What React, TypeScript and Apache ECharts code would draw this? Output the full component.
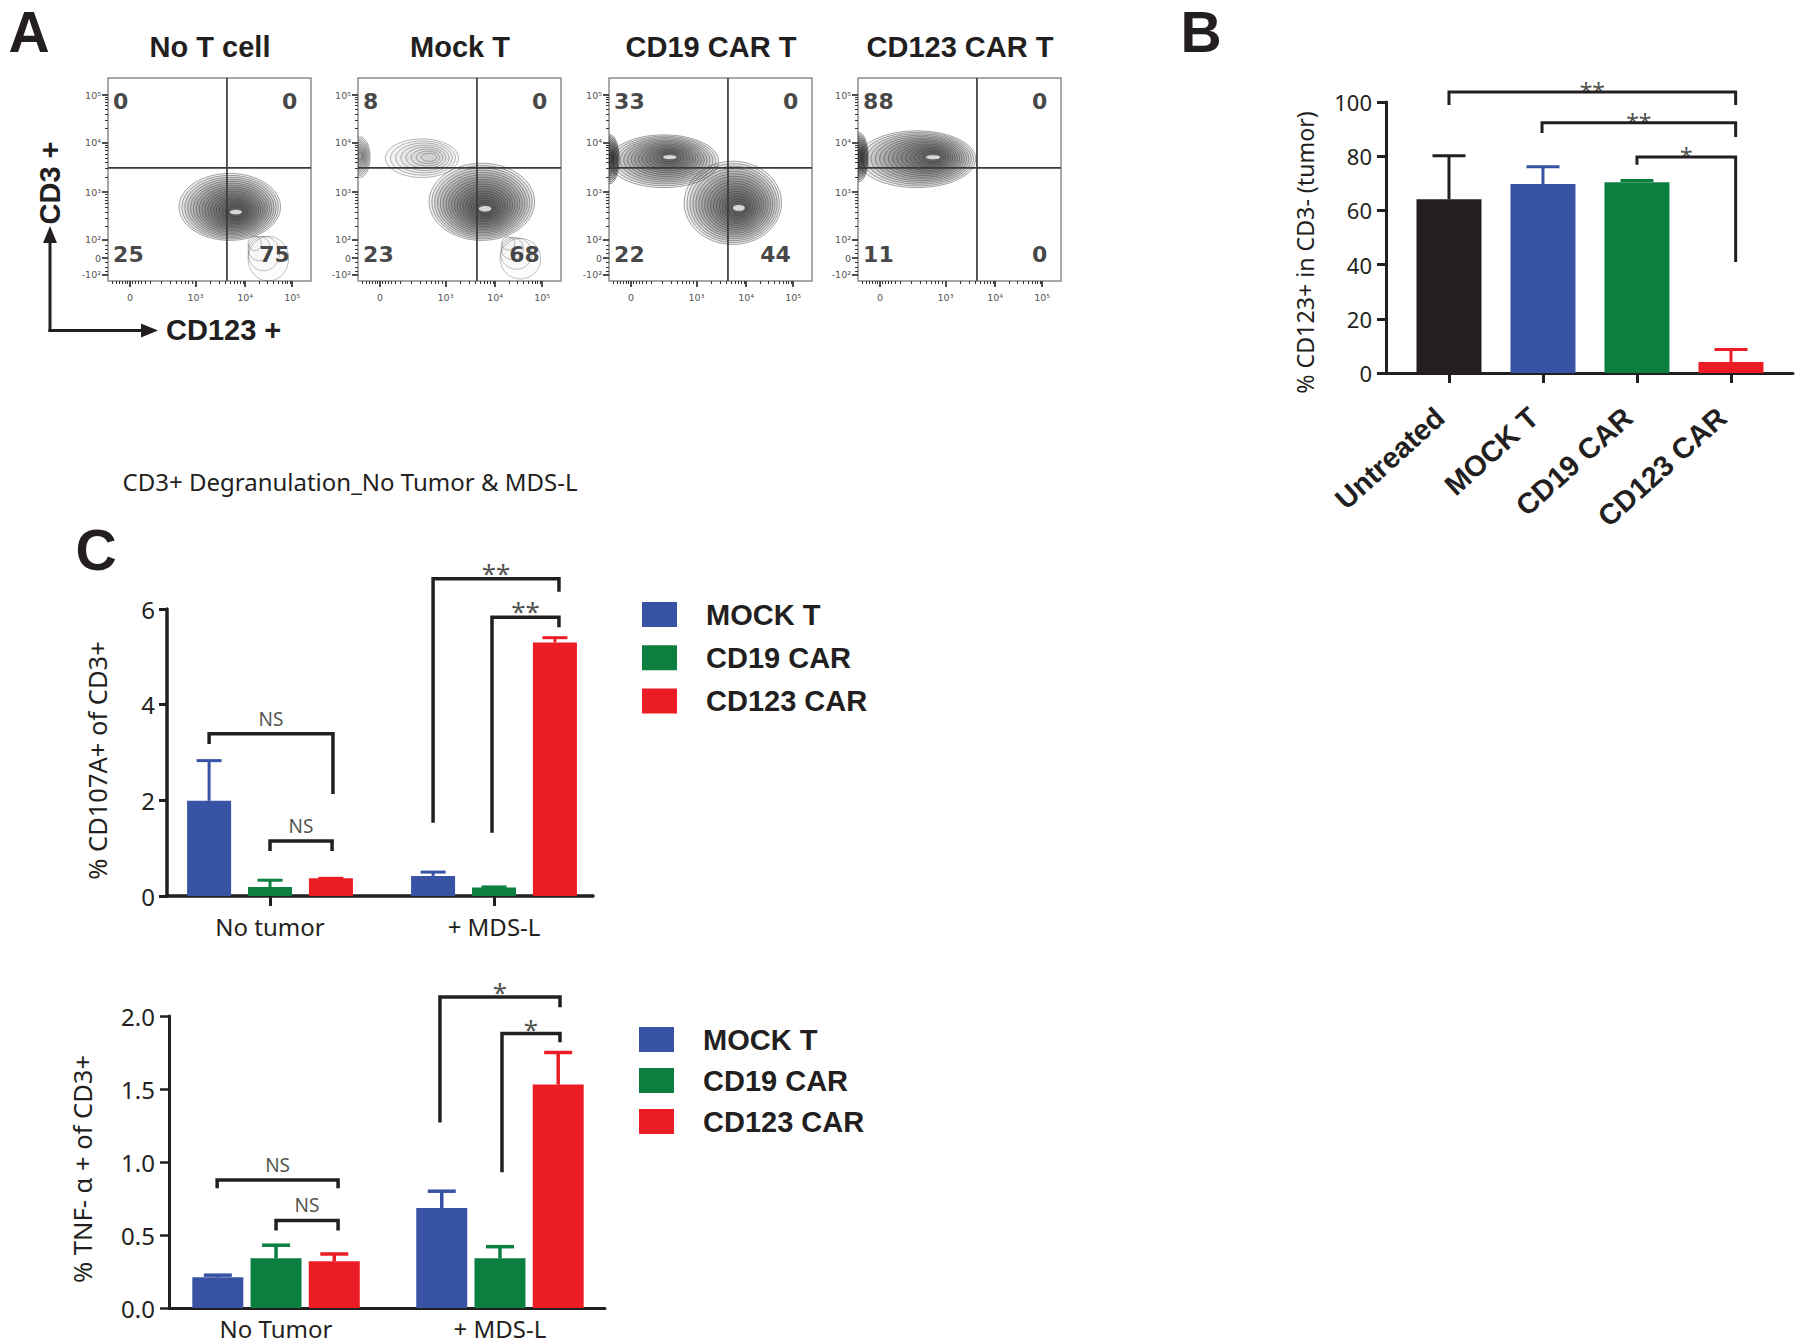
import React, { useEffect, useRef } from "react";
import * as echarts from "echarts";

const BLACK = "#231f20";
const BLUE = "#3953a4";
const GREEN = "#0c7f40";
const RED = "#ec1c24";
const ARIAL = '"Liberation Sans", Arial, sans-serif';
const MYRIAD = '"Noto Sans", "Open Sans", sans-serif';
const DEJAVU = '"DejaVu Sans", sans-serif';

// ---------------- Panel A (flow cytometry) ----------------
const flowTitles = ["No T cell", "Mock T", "CD19 CAR T", "CD123 CAR T"];
// quadrant percentages: [upper-left, upper-right, lower-left, lower-right]
const quadrantPercents = [
  [0, 0, 25, 75],
  [8, 0, 23, 68],
  [33, 0, 22, 44],
  [88, 0, 11, 0],
];
// biexponential display scale (0-100 of plot extent)
const flowXTickPos = [10.8, 43.1, 67.6, 90.7];
const flowXTickLabels = ["0", "10³", "10⁴", "10⁵"];
const flowYTickPos = [3.0, 11.3, 20.2, 43.8, 68.0, 91.6];
const flowYTickLabels = ["-10²", "0", "10²", "10³", "10⁴", "10⁵"];
const flowXMinorPos = [2, 4, 5.5, 7, 8.5, 9.7, 12, 13.3, 14.7, 16.5, 18.5, 21, 26, 30.5, 33.5, 36, 38, 39.7, 41.3,
  50.5, 54.8, 57.9, 60.2, 62.2, 63.8, 65.2, 66.5, 74.6, 78.6, 81.5, 83.7, 85.6, 87.1, 88.5, 89.7];
const flowYMinorPos = [5, 7, 9, 13.5, 15.5, 17.5, 27, 31, 34, 36.5, 38.5, 40, 41.5, 42.7,
  51.1, 55.3, 58.4, 60.7, 62.6, 64.3, 65.7, 66.9, 75.1, 79.3, 82.2, 84.5, 86.4, 87.9, 89.3, 90.5];
const gateCD123 = 58.6;
const gateCD3 = 55.7;
// populations: [centerX, centerY, radiusX, radiusY, peakX, peakY, contourLevels, density]
const popsNoT = [
  [60, 36.5, 25, 16.5, 63, 34, 18, 1],
  [79, 11, 10, 11, 70, 21, 4, 0.2],
];
const popsMock = [
  [61, 39, 26, 19, 62.6, 35.6, 18, 1],
  [80, 11, 10, 10, 72, 21, 4, 0.2],
  [31.5, 60.5, 18, 9.5, 35.5, 61, 8, 0.45],
  [1, 61, 5, 10, 1, 61.5, 9, 0.8],
];
const popsCD19 = [
  [27, 59, 27, 13, 30, 61, 15, 1],
  [0.5, 60, 4.5, 12, 0.5, 60.5, 12, 1.6],
  [61, 38.5, 24, 20.5, 64, 36, 17, 1],
];
const popsCD123 = [
  [29, 60, 29, 14, 37, 61, 16, 1],
  [0.5, 61, 4.5, 12, 0.5, 61, 12, 1.6],
];
const flowPopulations = [popsNoT, popsMock, popsCD19, popsCD123];

// ---------------- Panel B ----------------
const bCategories = ["Untreated", "MOCK T", "CD19 CAR", "CD123 CAR"];
const bMeans = [64.1, 69.7, 70.4, 4.1];
const bErrTop = [80.2, 76.1, 71.0, 8.7];
// brackets: [xFrom, xTo, yTop, yLeftEnd, yRightEnd, label]
const bBrackets: [number, number, number, number, number, string][] = [
  [0, 3.05, 103.7, 98.9, 98.9, "**"],
  [0.99, 3.05, 92.3, 88.6, 87.1, "**"],
  [2.0, 3.05, 79.7, 76.8, 41, "*"],
];

// ---------------- Panel C ----------------
const cSeriesNames = ["MOCK T", "CD19 CAR", "CD123 CAR"];
const cd107Groups = ["No tumor", "+ MDS-L"];
const cd107Mean = [
  [1.99, 0.42],
  [0.19, 0.18],
  [0.37, 5.3],
];
const cd107ErrTop = [
  [2.83, 0.5],
  [0.33, 0.19],
  [0.37, 5.4],
];
const cd107Brackets: [number, number, number, number, number, string][] = [
  [-0.272, 0.281, 3.39, 3.18, 2.13, "NS"],
  [0, 0.277, 1.15, 0.94, 0.94, "NS"],
  [0.728, 1.29, 6.63, 1.53, 6.36, "**"],
  [0.991, 1.29, 5.83, 1.32, 5.62, "**"],
];
const tnfGroups = ["No Tumor", "+ MDS-L"];
const tnfMean = [
  [0.21, 0.685],
  [0.34, 0.34],
  [0.32, 1.53],
];
const tnfErrTop = [
  [0.225, 0.8],
  [0.43, 0.42],
  [0.37, 1.75],
];
const tnfBrackets: [number, number, number, number, number, string][] = [
  [-0.263, 0.277, 0.877, 0.82, 0.82, "NS"],
  [0, 0.277, 0.6, 0.53, 0.53, "NS"],
  [0.732, 1.268, 2.13, 1.27, 2.06, "*"],
  [1.009, 1.268, 1.88, 0.93, 1.82, "*"],
];

const bColors = [BLACK, BLUE, GREEN, RED];
const cColors = [BLUE, GREEN, RED];

function lookup(v: number, pos: number[], labels: string[]) {
  for (let k = 0; k < pos.length; k++) if (Math.abs(pos[k] - v) < 0.01) return labels[k];
  return "";
}

function errRender(colors: string[], capW: number, lw: number) {
  return (_p: any, api: any) => {
    const x = api.value(0), m = api.value(1), e = api.value(2), ci = api.value(3);
    const a = api.coord([x, m]);
    const b = api.coord([x, e]);
    const col = colors[ci];
    return {
      type: "group",
      children: [
        { type: "line", shape: { x1: a[0], y1: a[1], x2: b[0], y2: b[1] }, style: { stroke: col, lineWidth: lw } },
        { type: "line", shape: { x1: b[0] - capW / 2, y1: b[1], x2: b[0] + capW / 2, y2: b[1] }, style: { stroke: col, lineWidth: lw } },
      ],
    };
  };
}

function bracketSeries(axis: number, brackets: [number, number, number, number, number, string][], lw: number, starSize: number, nsSize: number, starDy: number, nsDy: number) {
  const out: any[] = brackets.map((b) => ({
    type: "line",
    xAxisIndex: axis,
    yAxisIndex: axis,
    symbol: "none",
    silent: true,
    clip: false,
    z: 5,
    lineStyle: { color: BLACK, width: lw, cap: "butt", join: "miter" },
    data: [[b[0], b[3]], [b[0], b[2]], [b[1], b[2]], [b[1], b[4]]],
  }));
  out.push({
    type: "scatter",
    xAxisIndex: axis,
    yAxisIndex: axis,
    symbolSize: 0,
    silent: true,
    clip: false,
    z: 6,
    data: brackets.map((b) => {
      const isNS = b[5] === "NS";
      return {
        value: [(b[0] + b[1]) / 2, b[2]],
        label: {
          show: true,
          position: "inside",
          formatter: b[5],
          fontFamily: MYRIAD,
          fontSize: isNS ? nsSize : starSize,
          color: BLACK,
          offset: [0, isNS ? nsDy : starDy],
        },
      };
    }),
  });
  return out;
}

function buildOption() {
  const grids: any[] = [];
  const xAxes: any[] = [];
  const yAxes: any[] = [];
  const series: any[] = [];
  const flowLeft = [108, 358, 609, 858];

  flowLeft.forEach((left, i) => {
    grids.push({ left, top: 78, width: 203, height: 203, show: true, borderColor: "#8c8c8c", borderWidth: 1.5, backgroundColor: "rgba(0,0,0,0)", outerBoundsMode: "none" });
    xAxes.push({
      gridIndex: i, type: "value", min: 0, max: 100, position: "bottom",
      axisLine: { show: false, onZero: false }, splitLine: { show: false },
      axisTick: { show: true, customValues: flowXTickPos, length: 6, lineStyle: { color: "#222", width: 1.6 } },
      axisLabel: { show: true, customValues: flowXTickPos, formatter: (v: number) => lookup(v, flowXTickPos, flowXTickLabels), fontSize: 9.5, color: "#555", fontFamily: DEJAVU, margin: 11 },
    });
    xAxes.push({
      gridIndex: i, type: "value", min: 0, max: 100, position: "bottom",
      axisLine: { show: false, onZero: false }, splitLine: { show: false },
      axisTick: { show: true, customValues: flowXMinorPos, length: 3, lineStyle: { color: "#333", width: 1 } },
      axisLabel: { show: false },
    });
    yAxes.push({
      gridIndex: i, type: "value", min: 0, max: 100, position: "left",
      axisLine: { show: false, onZero: false }, splitLine: { show: false },
      axisTick: { show: true, customValues: flowYTickPos, length: 6, lineStyle: { color: "#222", width: 1.6 } },
      axisLabel: { show: true, customValues: flowYTickPos, formatter: (v: number) => lookup(v, flowYTickPos, flowYTickLabels), fontSize: 9.5, color: "#555", fontFamily: DEJAVU, margin: 7 },
    });
    yAxes.push({
      gridIndex: i, type: "value", min: 0, max: 100, position: "left",
      axisLine: { show: false, onZero: false }, splitLine: { show: false },
      axisTick: { show: true, customValues: flowYMinorPos, length: 3, lineStyle: { color: "#333", width: 1 } },
      axisLabel: { show: false },
    });

    series.push({
      type: "custom",
      name: "population " + i,
      xAxisIndex: 2 * i,
      yAxisIndex: 2 * i,
      clip: true,
      silent: true,
      data: flowPopulations[i],
      renderItem: (_p: any, api: any) => {
        const cx = api.value(0), cy = api.value(1), rx = api.value(2), ry = api.value(3);
        const kx = api.value(4), ky = api.value(5), n = api.value(6), dens = api.value(7);
        const children: any[] = [];
        for (let k = 0; k < n; k++) {
          const t = k / n;
          const c = api.coord([cx + (kx - cx) * t, cy + (ky - cy) * t]);
          const s = api.size([rx * (1 - 0.9 * t), ry * (1 - 0.9 * t)]);
          children.push({
            type: "ellipse",
            shape: { cx: c[0], cy: c[1], rx: s[0], ry: s[1] },
            style: {
              fill: `rgba(25,25,25,${(0.065 * dens).toFixed(3)})`,
              stroke: `rgba(40,40,40,${Math.min(0.85, 0.45 + 0.25 * dens).toFixed(2)})`,
              lineWidth: 0.6,
            },
          });
        }
        if (dens >= 1 && rx > 10) {
          const pk = api.coord([kx, ky]);
          const ps = api.size([rx * 0.12, ry * 0.07]);
          children.push({
            type: "ellipse",
            shape: { cx: pk[0], cy: pk[1], rx: ps[0], ry: ps[1] },
            style: { fill: "rgba(255,255,255,0.75)" },
          });
        }
        return { type: "group", children };
      },
    });
    series.push({
      type: "custom",
      name: "gates " + i,
      xAxisIndex: 2 * i,
      yAxisIndex: 2 * i,
      silent: true,
      data: [[gateCD123, gateCD3]],
      renderItem: (_p: any, api: any) => {
        const gx = api.value(0), gy = api.value(1);
        const a = api.coord([gx, 0]), b = api.coord([gx, 100]);
        const c = api.coord([0, gy]), d = api.coord([100, gy]);
        return {
          type: "group",
          children: [
            { type: "line", shape: { x1: a[0], y1: a[1], x2: b[0], y2: b[1] }, style: { stroke: "#3a3a3a", lineWidth: 1.7 } },
            { type: "line", shape: { x1: c[0], y1: c[1], x2: d[0], y2: d[1] }, style: { stroke: "#3a3a3a", lineWidth: 1.7 } },
          ],
        };
      },
    });
    const q = quadrantPercents[i];
    const rx = (v: number) => (v >= 10 ? 89.6 : 93.3);
    const qLabel = (x: number, y: number, v: number, align: string) => ({
      value: [x, y],
      label: { show: true, position: "inside", align, formatter: String(v), fontFamily: DEJAVU, fontWeight: "bold", fontSize: 22, color: "#161616" },
    });
    series.push({
      type: "scatter",
      name: "quadrants " + i,
      xAxisIndex: 2 * i,
      yAxisIndex: 2 * i,
      symbolSize: 0,
      silent: true,
      z: 6,
      data: [
        qLabel(2.5, 88.4, q[0], "left"),
        qLabel(rx(q[1]), 88.4, q[1], "right"),
        qLabel(2.5, 13, q[2], "left"),
        qLabel(rx(q[3]), 13, q[3], "right"),
      ],
    });
  });

  // ----- Panel B -----
  grids.push({ left: 1386, top: 102, width: 407, height: 271, outerBoundsMode: "none" });
  xAxes.push({
    gridIndex: 4, type: "value", min: -0.67, max: 3.66,
    axisLine: { show: true, onZero: false, lineStyle: { color: BLACK, width: 3 } },
    splitLine: { show: false },
    axisTick: { show: true, customValues: [0, 1, 2, 3], length: 10, lineStyle: { color: BLACK, width: 3 } },
    axisLabel: {
      show: true, customValues: [0, 1, 2, 3], formatter: (v: number) => bCategories[Math.round(v)] || "",
      rotate: 42, fontFamily: ARIAL, fontWeight: "bold", fontSize: 29, color: BLACK, margin: 32, padding: [0, 12, 0, 0],
    },
  });
  yAxes.push({
    gridIndex: 4, type: "value", min: 0, max: 100, interval: 20,
    axisLine: { show: true, onZero: false, lineStyle: { color: BLACK, width: 3 } },
    splitLine: { show: false },
    axisTick: { show: true, length: 9, lineStyle: { color: BLACK, width: 3 } },
    axisLabel: { fontFamily: MYRIAD, fontSize: 22, color: BLACK, margin: 14 },
    name: "% CD123+ in CD3- (tumor)", nameLocation: "middle", nameGap: 70,
    nameTextStyle: { fontFamily: MYRIAD, fontSize: 23.2, color: BLACK, padding: [0, 30, 0, 0] },
  });
  series.push({
    type: "bar", name: "CD123+ tumor", xAxisIndex: 8, yAxisIndex: 8, barWidth: 65,
    data: bMeans.map((v, i) => ({ value: [i, v], itemStyle: { color: bColors[i] } })),
  });
  series.push({
    type: "custom", name: "B error", xAxisIndex: 8, yAxisIndex: 8, silent: true, clip: false,
    data: bMeans.map((v, i) => [i, v, bErrTop[i], i]),
    renderItem: errRender(bColors, 33, 3),
  });
  series.push(...bracketSeries(8, bBrackets, 3, 23, 19, -1, -15));

  // ----- Panel C top (CD107A) -----
  grids.push({ left: 167, top: 609, width: 426, height: 287, outerBoundsMode: "none" });
  xAxes.push({
    gridIndex: 5, type: "value", min: -0.46, max: 1.442,
    axisLine: { show: true, onZero: false, lineStyle: { color: BLACK, width: 3.5 } },
    splitLine: { show: false },
    axisTick: { show: true, customValues: [0, 1], length: 10, lineStyle: { color: BLACK, width: 3 } },
    axisLabel: { show: true, customValues: [0, 1], formatter: (v: number) => cd107Groups[Math.round(v)] || "", fontFamily: MYRIAD, fontSize: 24, color: BLACK, margin: 18 },
  });
  yAxes.push({
    gridIndex: 5, type: "value", min: 0, max: 6, interval: 2,
    axisLine: { show: true, onZero: false, lineStyle: { color: BLACK, width: 3.5 } },
    splitLine: { show: false },
    axisTick: { show: true, length: 8, lineStyle: { color: BLACK, width: 3 } },
    axisLabel: { fontFamily: MYRIAD, fontSize: 24, color: BLACK, margin: 12 },
    name: "% CD107A+ of CD3+", nameLocation: "middle", nameGap: 57,
    nameTextStyle: { fontFamily: MYRIAD, fontSize: 25.5, color: BLACK, padding: [0, 16, 0, 0] },
  });
  const c1Off = [-0.272, 0, 0.272];
  cSeriesNames.forEach((name, s) => {
    series.push({
      type: "bar", name, xAxisIndex: 9, yAxisIndex: 9, barWidth: 44, barGap: "-100%",
      itemStyle: { color: cColors[s] },
      data: cd107Groups.map((_g, j) => [j + c1Off[s], cd107Mean[s][j]]),
    });
  });
  series.push({
    type: "custom", name: "CD107A error", xAxisIndex: 9, yAxisIndex: 9, silent: true, clip: false,
    data: cSeriesNames.flatMap((_n, s) => cd107Groups.map((_g, j) => [j + c1Off[s], cd107Mean[s][j], cd107ErrTop[s][j], s])),
    renderItem: errRender(cColors, 25, 3),
  });
  series.push(...bracketSeries(9, cd107Brackets, 3.5, 26, 19, -6, -15));

  // ----- Panel C bottom (TNF-a) -----
  grids.push({ left: 169, top: 1016, width: 436, height: 292, outerBoundsMode: "none" });
  xAxes.push({
    gridIndex: 6, type: "value", min: -0.478, max: 1.469,
    axisLine: { show: true, onZero: false, lineStyle: { color: BLACK, width: 3 } },
    splitLine: { show: false },
    axisTick: { show: false },
    axisLabel: { show: true, customValues: [0, 1], formatter: (v: number) => tnfGroups[Math.round(v)] || "", fontFamily: MYRIAD, fontSize: 24, color: BLACK, margin: 8 },
  });
  yAxes.push({
    gridIndex: 6, type: "value", min: 0, max: 2, interval: 0.5,
    axisLine: { show: true, onZero: false, lineStyle: { color: BLACK, width: 3 } },
    splitLine: { show: false },
    axisTick: { show: true, length: 9, lineStyle: { color: BLACK, width: 2.5 } },
    axisLabel: { fontFamily: MYRIAD, fontSize: 24, color: BLACK, margin: 14, formatter: (v: number) => v.toFixed(1) },
    name: "% TNF- α + of CD3+", nameLocation: "middle", nameGap: 74,
    nameTextStyle: { fontFamily: MYRIAD, fontSize: 25.5, color: BLACK, padding: [0, 14, 0, 0] },
  });
  const c2Off = [-0.26, 0, 0.26];
  cSeriesNames.forEach((name, s) => {
    series.push({
      type: "bar", name, xAxisIndex: 10, yAxisIndex: 10, barWidth: 51, barGap: "-100%",
      itemStyle: { color: cColors[s] },
      data: tnfGroups.map((_g, j) => [j + c2Off[s], tnfMean[s][j]]),
    });
  });
  series.push({
    type: "custom", name: "TNF error", xAxisIndex: 10, yAxisIndex: 10, silent: true, clip: false,
    data: cSeriesNames.flatMap((_n, s) => tnfGroups.map((_g, j) => [j + c2Off[s], tnfMean[s][j], tnfErrTop[s][j], s])),
    renderItem: errRender(cColors, 28, 3.5),
  });
  series.push(...bracketSeries(10, tnfBrackets, 3.5, 26, 19, -5, -15));

  const legendText = { fontFamily: ARIAL, fontWeight: "bold", fontSize: 29, color: BLACK, padding: [0, 0, 0, 24] };

  const flowCenters = [210, 460, 711, 960];
  const graphic: any[] = [
    { type: "text", x: 29, y: 32, style: { text: "A", font: `bold 57px ${ARIAL}`, fill: BLACK, align: "center", verticalAlign: "middle" } },
    { type: "text", x: 1201, y: 32, style: { text: "B", font: `bold 57px ${ARIAL}`, fill: BLACK, align: "center", verticalAlign: "middle" } },
    { type: "text", x: 96, y: 550, style: { text: "C", font: `bold 57px ${ARIAL}`, fill: BLACK, align: "center", verticalAlign: "middle" } },
    ...flowTitles.map((t, i) => ({
      type: "text", x: flowCenters[i], y: 47,
      style: { text: t, font: `bold 29px ${ARIAL}`, fill: BLACK, align: "center", verticalAlign: "middle" },
    })),
    { type: "text", x: 50, y: 183, rotation: Math.PI / 2, style: { text: "CD3 +", font: `bold 29px ${ARIAL}`, fill: BLACK, align: "center", verticalAlign: "middle" } },
    { type: "text", x: 166, y: 330, style: { text: "CD123 +", font: `bold 29px ${ARIAL}`, fill: BLACK, align: "left", verticalAlign: "middle" } },
    { type: "line", shape: { x1: 50, y1: 332, x2: 50, y2: 238 }, style: { stroke: BLACK, lineWidth: 3 } },
    { type: "polygon", shape: { points: [[50, 226], [43, 243], [57, 243]] }, style: { fill: BLACK } },
    { type: "line", shape: { x1: 48.5, y1: 330.5, x2: 146, y2: 330.5 }, style: { stroke: BLACK, lineWidth: 3 } },
    { type: "polygon", shape: { points: [[158, 330.5], [141, 323.5], [141, 337.5]] }, style: { fill: BLACK } },
    { type: "text", x: 350, y: 481, style: { text: "CD3+ Degranulation_No Tumor & MDS-L", font: `24px ${MYRIAD}`, fill: BLACK, align: "center", verticalAlign: "middle" } },
  ];

  return {
    animation: false,
    backgroundColor: "#ffffff",
    grid: grids,
    xAxis: xAxes,
    yAxis: yAxes,
    series,
    legend: [
      { orient: "vertical", left: 642, top: 600, padding: 0, itemWidth: 35, itemHeight: 25, itemGap: 14.3, icon: "rect", selectedMode: false, data: cSeriesNames, textStyle: legendText },
      { orient: "vertical", left: 639, top: 1025, padding: 0, itemWidth: 35, itemHeight: 25, itemGap: 12, icon: "rect", selectedMode: false, data: cSeriesNames, textStyle: legendText },
    ],
    graphic,
  };
}

export default function App() {
  const ref = useRef<HTMLDivElement>(null);
  useEffect(() => {
    if (!ref.current) return;
    const chart = echarts.init(ref.current, null, { renderer: "svg" });
    chart.setOption(buildOption() as any);
    return () => chart.dispose();
  }, []);
  return <div ref={ref} style={{ position: "absolute", left: 0, top: 0, width: 1800, height: 1343, background: "#fff" }} />;
}
